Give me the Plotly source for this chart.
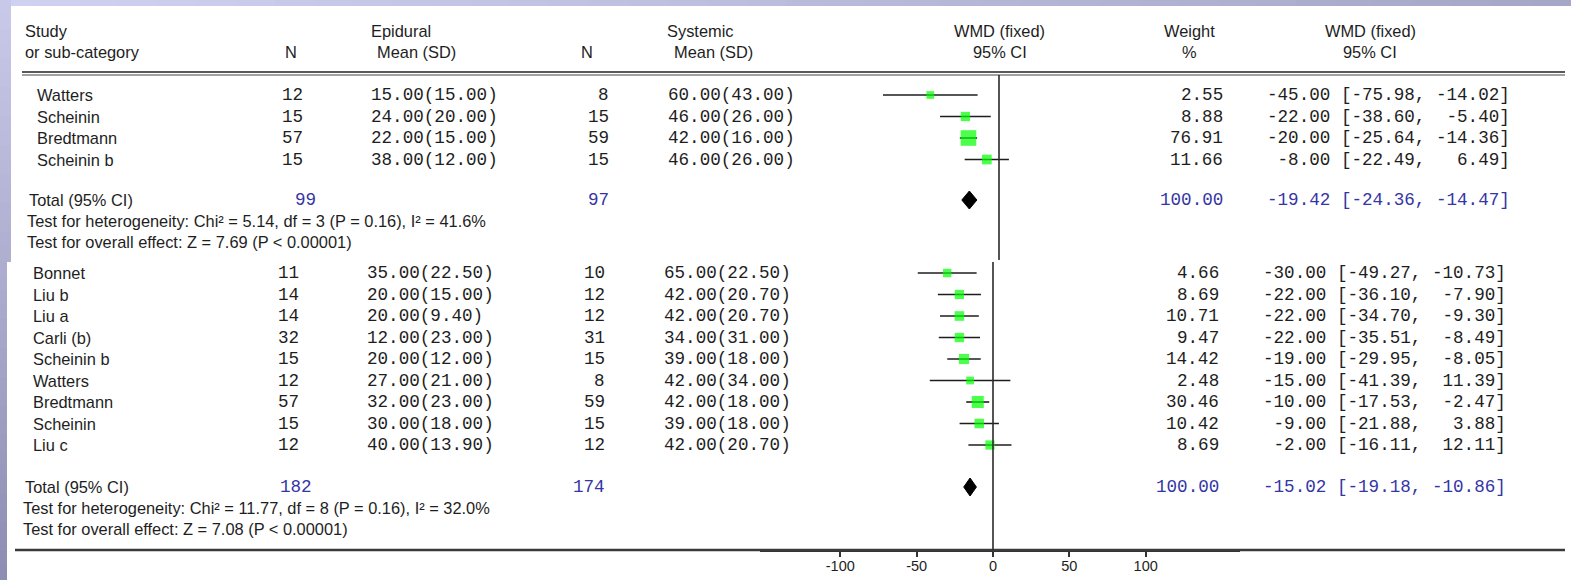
import plotly.graph_objects as go

# ---------------- data ----------------
top_names = ["Watters", "Scheinin", "Bredtmann", "Scheinin b"]
top_n_epi = [12, 15, 57, 15]
top_mean_epi = [15.00, 24.00, 22.00, 38.00]
top_sd_epi = [15.00, 20.00, 15.00, 12.00]
top_n_sys = [8, 15, 59, 15]
top_mean_sys = [60.00, 46.00, 42.00, 46.00]
top_sd_sys = [43.00, 26.00, 16.00, 26.00]
top_weight = [2.55, 8.88, 76.91, 11.66]
top_wmd = [-45.00, -22.00, -20.00, -8.00]
top_lo = [-75.98, -38.60, -25.64, -22.49]
top_hi = [-14.02, -5.40, -14.36, 6.49]
top_total = {"n_epi": 99, "n_sys": 97, "weight": 100.00, "wmd": -19.42, "lo": -24.36, "hi": -14.47}
top_het = "Test for heterogeneity: Chi² = 5.14, df = 3 (P = 0.16), I² = 41.6%"
top_overall = "Test for overall effect: Z = 7.69 (P < 0.00001)"

bot_names = ["Bonnet", "Liu b", "Liu a", "Carli (b)", "Scheinin b", "Watters", "Bredtmann", "Scheinin", "Liu c"]
bot_n_epi = [11, 14, 14, 32, 15, 12, 57, 15, 12]
bot_mean_epi = [35.00, 20.00, 20.00, 12.00, 20.00, 27.00, 32.00, 30.00, 40.00]
bot_sd_epi = [22.50, 15.00, 9.40, 23.00, 12.00, 21.00, 23.00, 18.00, 13.90]
bot_n_sys = [10, 12, 12, 31, 15, 8, 59, 15, 12]
bot_mean_sys = [65.00, 42.00, 42.00, 34.00, 39.00, 42.00, 42.00, 39.00, 42.00]
bot_sd_sys = [22.50, 20.70, 20.70, 31.00, 18.00, 34.00, 18.00, 18.00, 20.70]
bot_weight = [4.66, 8.69, 10.71, 9.47, 14.42, 2.48, 30.46, 10.42, 8.69]
bot_wmd = [-30.00, -22.00, -22.00, -22.00, -19.00, -15.00, -10.00, -9.00, -2.00]
bot_lo = [-49.27, -36.10, -34.70, -35.51, -29.95, -41.39, -17.53, -21.88, -16.11]
bot_hi = [-10.73, -7.90, -9.30, -8.49, -8.05, 11.39, -2.47, 3.88, 12.11]
bot_total = {"n_epi": 182, "n_sys": 174, "weight": 100.00, "wmd": -15.02, "lo": -19.18, "hi": -10.86}
bot_het = "Test for heterogeneity: Chi² = 11.77, df = 8 (P = 0.16), I² = 32.0%"
bot_overall = "Test for overall effect: Z = 7.08 (P < 0.00001)"

axis_ticks = [-100, -50, 0, 50, 100]

# ---------------- layout constants ----------------
W, H = 1571, 580
SANS = "Liberation Sans"
MONO = "Liberation Mono"
TXT = "#1e1e1e"
BLUE = "#3535a5"
GREEN = "#00ff00"
PX_PER_UNIT = 1.527
DOM_L, DOM_R = 760, 1240
ZERO_BOT = 993
ZERO_TOP = 999
SANS_SIZE = 16.4
MONO_SIZE = 17.6
NB = "\u00a0"

annotations = []
shapes = []


def ann(x, y, text, anchor="left", family=SANS, size=SANS_SIZE, color=TXT):
    annotations.append(dict(
        x=x / W, y=1 - y / H, xref="paper", yref="paper", text=text,
        xanchor=anchor, yanchor="middle", showarrow=False,
        font=dict(family=family, size=size, color=color)))


def pad(s, n):
    return s.rjust(n).replace(" ", NB)


def ci_text(w, lo, hi):
    return pad(f"{w:.2f}", 6) + NB + "[" + pad(f"{lo:.2f}", 6) + "," + NB + pad(f"{hi:.2f}", 6) + "]"


# ---------------- background ----------------
def lerp(c1, c2, t):
    return "rgb(%d,%d,%d)" % tuple(round(a + (b - a) * t) for a, b in zip(c1, c2))


NSTRIP = 40
for i in range(NSTRIP):
    t = i / (NSTRIP - 1)
    x0 = W * i / NSTRIP
    x1 = W * (i + 1) / NSTRIP + 1
    shapes.append(dict(type="rect", xref="paper", yref="paper", x0=x0 / W, x1=min(x1, W) / W,
                       y0=1 - 6 / H, y1=1, fillcolor=lerp((208, 208, 242), (166, 166, 200), t),
                       line=dict(width=0), layer="below"))
for i in range(NSTRIP):
    t = i / (NSTRIP - 1)
    y0 = H * i / NSTRIP
    y1 = H * (i + 1) / NSTRIP + 1
    wband = 11 if y0 < 258 else 7
    shapes.append(dict(type="rect", xref="paper", yref="paper", x0=0, x1=wband / W,
                       y0=1 - min(y1, H) / H, y1=1 - y0 / H, fillcolor=lerp((200, 200, 232), (142, 142, 178), t),
                       line=dict(width=0), layer="below"))

# ---------------- header ----------------
ann(23, 31, "Study")
ann(23, 52, "or sub-category")
ann(291, 52, "N", "center")
ann(369, 31, "Epidural")
ann(375, 52, "Mean (SD)")
ann(587, 52, "N", "center")
ann(665, 31, "Systemic")
ann(672, 52, "Mean (SD)")
ann(1000, 31, "WMD (fixed)", "center")
ann(1000, 52, "95% CI", "center")
ann(1189, 31, "Weight", "center")
ann(1189, 52, "%", "center")
ann(1370, 31, "WMD (fixed)", "center")
ann(1370, 52, "95% CI", "center")

shapes.append(dict(type="line", xref="paper", yref="paper", x0=22 / W, x1=1565 / W,
                   y0=1 - 72 / H, y1=1 - 72 / H, line=dict(color="#222", width=1.6)))
shapes.append(dict(type="line", xref="paper", yref="paper", x0=22 / W, x1=1565 / W,
                   y0=1 - 75 / H, y1=1 - 75 / H, line=dict(color="#444", width=1)))
shapes.append(dict(type="line", xref="paper", yref="paper", x0=15 / W, x1=1565 / W,
                   y0=1 - 550 / H, y1=1 - 550 / H, line=dict(color="#3a3a3a", width=2.5)))

fig = go.Figure()


def panel(names, n_epi, m_epi, sd_epi, n_sys, m_sys, sd_sys, weight, wmd, lo, hi, total, het, overall,
          y0, dy, y_total, xoff, xaxis, zline):
    rows = [y0 + i * dy for i in range(len(names))]
    for i, y in enumerate(rows):
        ann(35 + xoff, y, names[i])
        ann(305 + xoff, y, str(n_epi[i]), "right", MONO, MONO_SIZE)
        ann(369 + xoff, y, f"{m_epi[i]:.2f}({sd_epi[i]:.2f})", "left", MONO, MONO_SIZE)
        ann(611 + xoff, y, str(n_sys[i]), "right", MONO, MONO_SIZE)
        ann(666 + xoff, y, f"{m_sys[i]:.2f}({sd_sys[i]:.2f})", "left", MONO, MONO_SIZE)
        ann(1225 + xoff, y, f"{weight[i]:.2f}", "right", MONO, MONO_SIZE)
        ann(1265 + xoff, y, ci_text(wmd[i], lo[i], hi[i]), "left", MONO, MONO_SIZE)
    ann(27 + xoff, y_total, "Total (95% CI)")
    ann(318 + xoff, y_total, str(total["n_epi"]), "right", MONO, MONO_SIZE, BLUE)
    ann(611 + xoff, y_total, str(total["n_sys"]), "right", MONO, MONO_SIZE, BLUE)
    ann(1225 + xoff, y_total, f"{total['weight']:.2f}", "right", MONO, MONO_SIZE, BLUE)
    ann(1265 + xoff, y_total, ci_text(total["wmd"], total["lo"], total["hi"]), "left", MONO, MONO_SIZE, BLUE)
    ann(25 + xoff, y_total + 21, het)
    ann(25 + xoff, y_total + 42, overall)

    # zero line
    shapes.append(dict(type="line", xref=xaxis, yref="y", x0=0, x1=0, y0=zline[0], y1=zline[1],
                       line=dict(color="#2a2a2a", width=1.6)))
    # CI lines
    xs, ys = [], []
    for i, y in enumerate(rows):
        xs += [lo[i], hi[i], None]
        ys += [y, y, None]
    fig.add_trace(go.Scatter(x=xs, y=ys, xaxis=xaxis, yaxis="y", mode="lines",
                             line=dict(color="#1e1e1e", width=1.6), hoverinfo="skip", showlegend=False))
    # squares
    fig.add_trace(go.Scatter(x=wmd, y=rows, xaxis=xaxis, yaxis="y", mode="markers",
                             marker=dict(symbol="square", color=GREEN,
                                         size=[6 + 1.1 * w ** 0.5 for w in weight], line=dict(width=0)),
                             hoverinfo="skip", showlegend=False))
    # diamond
    h = 9
    fig.add_trace(go.Scatter(x=[total["lo"], total["wmd"], total["hi"], total["wmd"], total["lo"]],
                             y=[y_total, y_total - h, y_total, y_total + h, y_total],
                             xaxis=xaxis, yaxis="y", mode="lines", fill="toself", fillcolor="#000",
                             line=dict(color="#000", width=1), hoverinfo="skip", showlegend=False))


panel(top_names, top_n_epi, top_mean_epi, top_sd_epi, top_n_sys, top_mean_sys, top_sd_sys,
      top_weight, top_wmd, top_lo, top_hi, top_total, top_het, top_overall,
      y0=95, dy=21.5, y_total=200, xoff=0, xaxis="x2", zline=(75, 260))
panel(bot_names, bot_n_epi, bot_mean_epi, bot_sd_epi, bot_n_sys, bot_mean_sys, bot_sd_sys,
      bot_weight, bot_wmd, bot_lo, bot_hi, bot_total, bot_het, bot_overall,
      y0=273, dy=21.5, y_total=487, xoff=-4, xaxis="x", zline=(262, 550))

fig.update_layout(
    width=W, height=H, margin=dict(l=0, r=0, t=0, b=0),
    paper_bgcolor="white", plot_bgcolor="rgba(0,0,0,0)",
    annotations=annotations, shapes=shapes,
    xaxis=dict(domain=[DOM_L / W, DOM_R / W],
               range=[(DOM_L - ZERO_BOT) / PX_PER_UNIT, (DOM_R - ZERO_BOT) / PX_PER_UNIT],
               tickvals=axis_ticks, ticktext=[str(t) for t in axis_ticks],
               ticks="outside", ticklen=5, tickwidth=2, tickcolor="#333",
               showline=True, linecolor="#333", linewidth=2, showgrid=False, zeroline=False,
               ticklabelstandoff=-3,
               tickfont=dict(family=SANS, size=14.5, color=TXT), fixedrange=True),
    xaxis2=dict(overlaying="x", anchor="y",
                range=[(DOM_L - ZERO_TOP) / PX_PER_UNIT, (DOM_R - ZERO_TOP) / PX_PER_UNIT],
                visible=False, fixedrange=True),
    yaxis=dict(domain=[30 / H, 1], range=[550, 0], visible=False, fixedrange=True),
    showlegend=False,
)

fig.write_html("out.html", config={"displayModeBar": False},
               post_script="document.body.style.margin='0px';document.body.style.overflow='hidden';")
